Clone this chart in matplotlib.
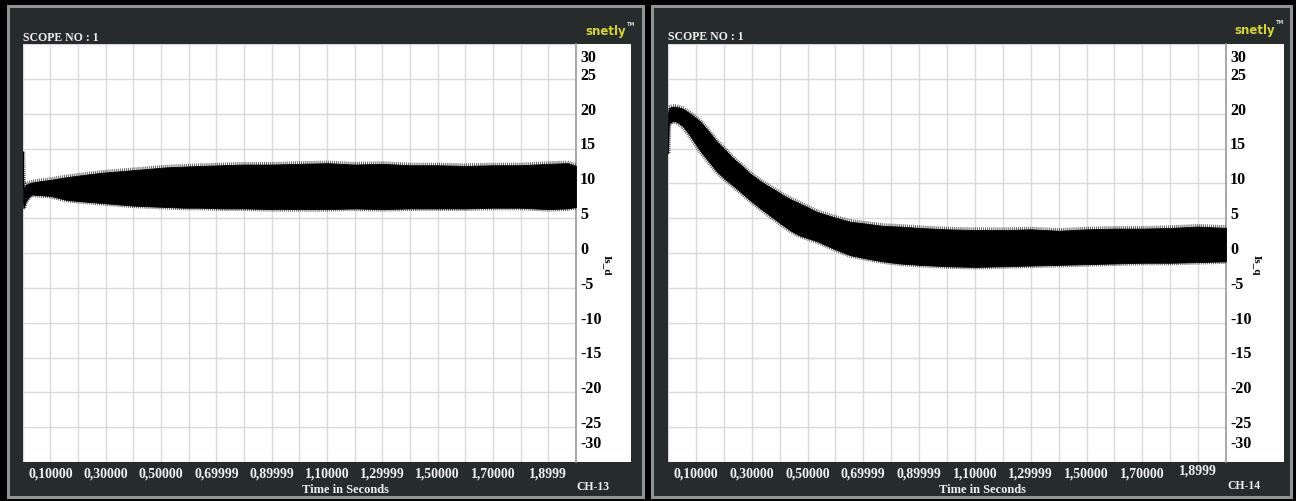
import matplotlib
matplotlib.use("Agg")
import matplotlib.pyplot as plt
from matplotlib.patches import Rectangle
from matplotlib.transforms import offset_copy
from matplotlib import patheffects
import numpy as np

# ---------------------------------------------------------------- data
time_ticks = [0.1, 0.3, 0.5, 0.7, 0.9, 1.1, 1.3, 1.5, 1.7, 1.9]
time_labels = ["0,10000", "0,30000", "0,50000", "0,69999", "0,89999",
               "1,10000", "1,29999", "1,50000", "1,70000", "1,8999"]
amp_ticks = [30, 25, 20, 15, 10, 5, 0, -5, -10, -15, -20, -25, -30]
amp_labels = [str(v) for v in amp_ticks]

# Is_d: upper / lower envelope of the oscillating trace
isd_t = [0.0, 0.003, 0.012, 0.03, 0.06, 0.10, 0.16, 0.22, 0.28, 0.34, 0.40,
         0.46, 0.52, 0.58, 0.64, 0.72, 0.80, 0.90, 1.00, 1.10, 1.20, 1.30,
         1.40, 1.50, 1.60, 1.70, 1.80, 1.90, 1.97, 2.0]
isd_hi = [14.6, 9.3, 9.8, 10.1, 10.3, 10.5, 10.9, 11.2, 11.5, 11.7, 11.9,
          12.1, 12.3, 12.4, 12.5, 12.6, 12.7, 12.7, 12.8, 12.9, 12.7, 12.8,
          12.6, 12.6, 12.5, 12.6, 12.6, 12.8, 12.9, 12.5]
isd_lo = [8.0, 6.4, 7.5, 8.4, 8.3, 8.2, 7.6, 7.4, 7.2, 7.0, 6.8,
          6.7, 6.6, 6.5, 6.5, 6.4, 6.4, 6.3, 6.3, 6.3, 6.4, 6.3,
          6.4, 6.4, 6.4, 6.5, 6.5, 6.3, 6.4, 6.6]

# Is_q: upper / lower envelope of the oscillating trace
isq_t = [0.0, 0.003, 0.014, 0.03, 0.054, 0.08, 0.115, 0.145, 0.175, 0.205,
         0.233, 0.265, 0.294, 0.325, 0.355, 0.385, 0.412, 0.44, 0.473, 0.534,
         0.59, 0.652, 0.713, 0.77, 0.83, 0.90, 1.0, 1.1, 1.2, 1.3, 1.4, 1.5,
         1.6, 1.7, 1.8, 1.9, 2.0]
isq_hi = [20.0, 20.8, 21.0, 21.0, 20.7, 20.0, 18.9, 17.5, 16.0, 14.8,
          13.6, 12.5, 11.4, 10.5, 9.7, 9.0, 8.3, 7.7, 7.1, 5.9,
          5.2, 4.5, 4.2, 3.9, 3.8, 3.6, 3.4, 3.3, 3.3, 3.4, 3.2, 3.4,
          3.5, 3.5, 3.6, 3.8, 3.6]
isq_lo = [14.3, 18.6, 18.9, 18.9, 18.2, 16.8, 14.7, 13.2, 11.7, 10.6,
          9.7, 8.6, 7.6, 6.6, 5.7, 4.8, 4.0, 3.2, 2.5, 1.7,
          0.7, -0.3, -0.8, -1.2, -1.5, -1.7, -1.9, -2.0, -1.9, -1.8, -1.7, -1.6,
          -1.5, -1.4, -1.4, -1.3, -1.2]

# ---------------------------------------------------------------- layout
W, H = 1296, 502
fig = plt.figure(figsize=(W / 100, H / 100), dpi=100, facecolor="black")

FRAME = "#262b2b"
BORDER = "#8e9494"
GRID = "#dadada"
SERIF = ["Liberation Serif", "DejaVu Serif"]


def fig_box(x0, y0, x1, y1):
    return [x0 / W, 1 - y1 / H, (x1 - x0) / W, (y1 - y0) / H]


def fig_pt(x, y):
    return x / W, 1 - y / H


panels = [
    dict(frame=(8, 7, 643, 498), white=(22.7, 45, 631, 463), divider=576,
         t=isd_t, hi=isd_hi, lo=isd_lo, ylabel="Is_d", ylabel_xy=(607, 265),
         ch="CH-13", ch_xy=(593, 487), scope_xy=(22.7, 38),
         logo_xy=(626, 32), last_raise=0, caption_x=0.584),
    dict(frame=(652, 7, 1291, 498), white=(668, 45, 1284, 463), divider=1226,
         t=isq_t, hi=isq_hi, lo=isq_lo, ylabel="Is_q", ylabel_xy=(1256, 265),
         ch="CH-14", ch_xy=(1244, 486), scope_xy=(668, 37),
         logo_xy=(1275, 31), last_raise=3, caption_x=0.564),
]

for p in panels:
    fx0, fy0, fx1, fy1 = p["frame"]
    b = fig_box(fx0, fy0, fx1, fy1)
    fig.patches.append(Rectangle((b[0], b[1]), b[2], b[3], transform=fig.transFigure,
                                 facecolor=FRAME, edgecolor=BORDER, lw=2.2, zorder=0))
    wx0, wy0, wx1, wy1 = p["white"]
    b = fig_box(wx0, wy0, wx1, wy1)
    fig.patches.append(Rectangle((b[0], b[1]), b[2], b[3], transform=fig.transFigure,
                                 facecolor="white", edgecolor="none", zorder=0.5))

    ax = fig.add_axes(fig_box(wx0, wy0, p["divider"], wy1))
    ax.set_zorder(2)
    ax.set_facecolor("white")
    ax.set_xlim(0, 2.0)
    ax.set_ylim(-30, 30)
    ax.set_xticks(np.arange(0, 2.0001, 0.1))
    ax.set_yticks(amp_ticks)
    ax.set_xticklabels([])
    ax.set_yticklabels([])
    ax.tick_params(length=0)
    ax.grid(True, color=GRID, lw=1.0)
    ax.set_axisbelow(True)
    for side in ("left", "top", "bottom"):
        ax.spines[side].set_visible(False)
    ax.spines["right"].set_color("#9a9a9a")
    ax.spines["right"].set_linewidth(1.2)

    # oscillating trace drawn as its envelope band with a ragged fringe
    ax.fill_between(p["t"], p["lo"], p["hi"], color="black", lw=0.6, zorder=3)
    ax.plot(p["t"], p["hi"], color="black", lw=0.3, alpha=0.7, zorder=3,
            path_effects=[patheffects.TickedStroke(spacing=1.4, angle=90,
                                                   length=1.1, linewidth=0.6)])
    ax.plot(p["t"], p["lo"], color="black", lw=0.3, alpha=0.7, zorder=3,
            path_effects=[patheffects.TickedStroke(spacing=1.4, angle=-90,
                                                   length=1.1, linewidth=0.6)])

    # amplitude labels in the white column
    ytr = ax.get_yaxis_transform()
    for v, lab in zip(amp_ticks, amp_labels):
        if v == 30:
            tr, va = offset_copy(ytr, fig=fig, x=4, y=-5, units="dots"), "top"
        elif v == -30:
            tr, va = offset_copy(ytr, fig=fig, x=4, y=11, units="dots"), "bottom"
        else:
            tr, va = offset_copy(ytr, fig=fig, x=4, y=4, units="dots"), "center"
        ax.text(1.0, v, lab, transform=tr, ha="left", va=va, fontsize=11.5,
                fontweight="bold", family=SERIF, color="black", clip_on=False)

    # time labels under the plot
    xtr = ax.get_xaxis_transform()
    for i, (t, lab) in enumerate(zip(time_ticks, time_labels)):
        dy = -5 + (p["last_raise"] if i == len(time_ticks) - 1 else 0)
        ax.text(t, 0, lab, transform=offset_copy(xtr, fig=fig, y=dy, units="dots"),
                ha="center", va="top", fontsize=10, fontweight="bold",
                family=SERIF, color="#f0f0f0", clip_on=False)
    ax.text(p["caption_x"], 0, "Time in Seconds",
            transform=offset_copy(ax.transAxes, fig=fig, y=-27, units="dots"),
            ha="center", va="center", fontsize=9, fontweight="bold",
            family=SERIF, color="#f0f0f0", clip_on=False)

    # header and side annotations
    fig.text(*fig_pt(*p["scope_xy"]), "SCOPE NO : 1", ha="left", va="center",
             fontsize=8.5, fontweight="bold", family=SERIF, color="#f2f2f2")
    lx, ly = p["logo_xy"]
    fig.text(*fig_pt(lx, ly), "snetly", ha="right", va="center", fontsize=8.5,
             fontweight="bold", family="DejaVu Sans", color="#d6d62e")
    fig.text(*fig_pt(lx + 1, ly - 8), "TM", ha="left", va="center", fontsize=3.5,
             fontweight="bold", family="DejaVu Sans", color="#d8d8d8")
    fig.text(*fig_pt(*p["ch_xy"]), p["ch"], ha="center", va="center",
             fontsize=8.5, fontweight="bold", family=SERIF, color="#f0f0f0")
    fig.text(*fig_pt(*p["ylabel_xy"]), p["ylabel"], ha="center", va="center",
             rotation=270, fontsize=8, fontweight="bold", family=SERIF,
             color="black", zorder=3)

fig.savefig("out.png", dpi=100, facecolor="black")
